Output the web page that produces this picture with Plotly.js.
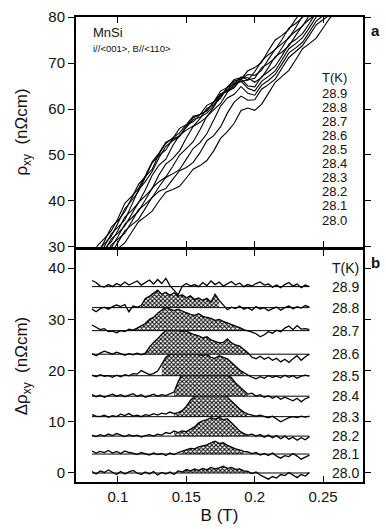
<!DOCTYPE html>
<html>
<head>
<meta charset="utf-8">
<script src="https://cdn.plot.ly/plotly-3.0.1.min.js"></script>
<style>body{margin:0;background:#fff}</style>
</head>
<body>
<div id="chart" style="width:386px;height:529px"></div>
<script>
// temperatures, lowest first
var temps = ["28.0", "28.1", "28.2", "28.3", "28.4", "28.5", "28.6", "28.7", "28.8", "28.9"];

// panel a : rho_xy (nOhm cm) vs B (T)
var bTop = [0.080,0.085,0.090,0.095,0.100,0.105,0.110,0.115,0.120,0.125,0.130,0.135,0.140,0.145,0.150,0.155,0.160,0.165,0.170,0.175,0.180,0.185,0.190,0.195,0.200,0.205,0.210,0.215,0.220,0.225,0.230,0.235,0.240,0.245,0.250,0.255,0.260];
var rho280 = [22.8,24.0,26.2,28.5,29.7,30.9,33.2,35.5,36.6,37.8,40.0,41.9,42.5,43.2,45.0,46.9,47.7,48.8,50.9,53.6,55.1,56.9,59.7,60.2,59.7,61.0,63.4,65.8,67.1,68.4,70.7,73.1,74.2,75.4,77.6,79.8,81.0];
var rho281 = [23.7,26.1,27.3,28.7,31.0,33.5,34.8,36.0,38.4,40.8,42.1,42.7,44.7,46.6,47.3,48.4,50.5,53.1,54.2,56.1,59.1,61.5,62.8,61.9,62.0,64.3,65.3,66.5,68.9,71.2,72.5,73.8,76.0,78.3,79.4,80.5,82.8];
var rho282 = [24.2,25.6,27.9,30.4,31.7,33.0,35.5,38.1,39.3,40.7,43.1,45.1,45.9,46.8,49.1,51.4,52.7,54.6,57.6,60.6,62.4,63.2,64.9,63.4,63.0,65.2,66.2,67.5,69.8,72.2,73.3,74.5,76.8,79.1,80.3,81.5,83.7];
var rho283 = [24.6,27.0,28.4,29.8,32.3,35.0,36.3,37.8,40.2,42.8,44.2,45.2,47.5,50.0,51.4,52.9,55.5,58.4,59.8,61.2,63.6,65.4,66.0,64.5,63.9,66.0,67.1,68.3,70.7,73.1,74.2,75.5,77.7,80.0,81.2,82.3,84.6];
var rho284 = [25.1,26.5,29.0,31.7,33.0,34.6,37.1,39.7,41.1,42.7,45.7,48.0,49.2,50.9,53.7,56.2,57.1,58.3,60.4,62.9,64.1,64.9,66.5,65.0,64.8,67.0,68.1,69.3,71.6,74.1,75.1,76.4,78.6,81.0,82.1,83.3,85.5];
var rho285 = [25.5,28.2,29.6,31.1,33.6,36.5,37.9,39.6,42.4,45.6,47.8,49.1,52.0,54.3,55.4,56.3,57.9,60.1,60.9,62.3,64.7,66.4,66.8,66.8,65.8,66.8,69.0,71.4,72.4,73.7,76.0,78.2,79.5,80.6,82.9,85.2,86.4];
var rho286 = [26.0,27.6,30.1,32.8,34.3,35.9,39.1,42.4,44.2,46.4,49.4,51.9,53.1,54.0,56.3,58.1,58.8,59.6,61.5,63.9,64.7,65.4,67.0,66.3,66.7,69.0,69.9,71.1,73.3,75.7,76.9,78.0,80.4,82.6,83.8,85.2,87.3];
var rho287 = [26.4,29.1,30.7,32.3,35.2,38.3,40.1,42.1,45.1,48.3,49.9,51.1,53.5,55.8,56.6,57.2,58.8,60.8,61.5,62.7,64.7,66.1,66.5,67.5,67.3,68.4,70.8,73.0,74.2,75.4,77.7,80.2,81.2,82.5,84.7,86.9,88.2];
var rho288 = [26.9,28.5,31.2,34.3,35.7,37.7,40.6,43.6,45.3,46.9,50.2,52.5,53.7,54.8,56.6,58.4,58.8,59.6,61.5,63.3,64.1,65.8,66.0,66.3,68.1,70.4,71.8,72.9,75.1,77.6,78.6,79.9,82.1,84.5,85.6,87.0,89.1];
var rho289 = [27.3,30.3,31.8,33.5,36.2,39.5,41.0,42.7,45.5,48.5,50.4,52.8,53.5,54.1,56.0,57.7,58.2,59.1,60.7,63.2,63.8,64.6,66.5,68.3,69.0,70.1,72.7,75.0,76.0,77.3,79.5,81.7,83.0,84.5,86.5,88.8,90.0];
var rhoCurves = [rho280, rho281, rho282, rho283, rho284, rho285, rho286, rho287, rho288, rho289];

// panel b : delta rho_xy (nOhm cm) vs B (T), drawn shifted by offsets
var bBot = [0.081,0.084,0.087,0.090,0.093,0.096,0.099,0.102,0.105,0.108,0.111,0.114,0.117,0.120,0.123,0.126,0.129,0.132,0.135,0.138,0.141,0.144,0.147,0.150,0.153,0.156,0.159,0.162,0.165,0.168,0.171,0.174,0.177,0.180,0.183,0.186,0.189,0.192,0.195,0.198,0.201,0.204,0.207,0.210,0.213,0.216,0.219,0.222,0.225,0.228,0.231,0.234,0.237,0.240];
var d280 = [0.3,-0.2,0.4,0.1,0.6,0.2,-0.3,0.3,-0.2,0.2,0.5,0.0,-0.3,0.2,-0.2,0.3,-0.4,0.1,-0.2,0.2,-0.3,0.4,0.2,0.7,0.4,0.8,0.5,0.9,0.6,1.1,0.8,1.0,1.3,0.9,1.1,0.7,0.8,0.4,0.3,-0.1,0.2,-0.4,-0.8,-1.2,-0.7,-1.0,-0.3,-0.5,0.1,-0.4,-0.9,-0.3,-0.6,0.1];
var d281 = [0.6,0.2,0.5,0.3,0.7,0.2,0.5,0.1,0.6,0.3,0.2,-0.1,0.3,0.0,-0.2,0.2,-0.1,0.1,-0.3,0.2,-0.1,0.3,0.6,0.9,1.1,1.0,1.4,1.6,1.8,2.2,2.5,2.1,2.2,1.7,1.3,1.0,0.8,0.5,0.4,0.1,0.3,-0.2,0.1,-0.3,0.2,-0.4,-0.8,-0.3,-0.5,0.1,-0.4,-1.0,-0.6,-0.2];
var d282 = [0.2,-0.1,0.3,0.0,0.4,0.1,0.5,0.2,-0.1,0.3,0.0,0.2,-0.2,0.1,0.3,0.0,0.4,0.2,0.7,0.5,1.0,0.7,1.0,0.9,1.3,1.8,2.6,3.0,3.2,3.6,3.3,3.7,3.2,3.4,2.6,1.8,1.0,0.5,0.2,0.4,0.0,0.3,-0.2,0.2,-0.3,0.1,-0.5,0.0,-0.6,-0.2,-0.8,-0.3,-0.7,-0.1];
var d283 = [0.4,0.1,0.0,0.3,-0.1,0.2,0.0,0.5,0.2,0.6,0.1,0.3,0.0,0.4,0.2,0.6,0.3,0.7,0.5,0.9,0.6,0.8,1.2,2.0,3.2,4.0,4.6,4.8,5.3,5.1,5.0,4.6,4.4,3.8,3.0,2.2,1.5,0.9,0.5,0.3,0.1,0.3,0.0,-0.2,0.1,-0.4,-1.0,-0.6,-0.2,0.0,-0.2,0.1,-0.1,0.1];
var d284 = [0.3,-0.1,0.2,-0.2,0.1,0.4,0.0,0.3,-0.1,0.2,0.5,0.0,0.3,-0.2,0.1,0.4,0.0,0.3,0.1,0.5,0.8,2.8,4.4,5.0,5.6,5.2,5.8,5.4,4.7,5.2,5.0,4.6,4.8,4.2,3.6,2.6,1.8,1.2,0.4,0.6,0.0,0.3,-0.2,0.1,-0.4,0.0,-0.6,-0.2,-0.5,-0.9,-0.4,-1.1,-0.5,-0.2];
var d285 = [0.1,-0.2,0.2,-0.1,0.0,-0.3,0.1,-0.2,0.2,0.0,0.4,0.3,1.0,0.6,0.2,0.4,0.9,2.2,3.6,4.2,4.8,4.5,4.9,4.6,4.4,4.7,4.3,3.9,4.2,3.6,3.4,3.9,3.6,3.3,2.6,1.8,1.1,0.6,0.1,-0.3,-0.6,-0.2,-0.5,0.0,-0.3,-0.1,-0.4,0.1,-0.3,0.0,-0.5,-0.1,0.1,-0.1];
var d286 = [0.1,-0.3,0.2,0.6,0.3,0.0,0.4,0.1,-0.2,0.1,-0.1,0.2,-0.1,0.2,1.4,2.3,3.0,3.9,4.6,4.8,5.2,4.7,4.4,4.6,4.1,3.8,3.6,3.2,3.4,2.8,2.5,2.2,2.3,3.0,2.2,1.8,1.6,1.0,0.3,-0.6,-0.9,-0.4,-1.0,-0.6,-1.2,-0.8,-1.5,-1.0,-1.6,-0.9,-0.3,-1.2,-0.5,0.0];
var d287 = [1.1,0.6,0.2,0.4,-0.2,-0.1,-0.4,0.0,-0.2,0.3,0.1,0.5,0.9,1.4,2.2,2.6,3.4,4.0,4.6,4.2,3.9,4.2,3.8,3.5,3.2,3.0,3.3,2.8,2.6,2.4,2.0,2.2,1.8,1.5,1.3,0.9,0.6,0.2,0.0,-0.3,-0.6,-1.2,-0.8,-0.2,-0.5,0.1,-0.2,0.5,0.9,0.2,1.0,0.3,0.4,0.2];
var d288 = [-0.3,-0.8,-0.2,0.1,-0.3,0.2,0.5,0.2,0.6,-0.8,0.3,0.1,0.4,1.8,2.2,2.8,3.4,2.6,3.0,2.4,2.9,2.2,2.5,1.9,2.3,1.6,1.9,1.4,1.8,1.1,2.6,1.4,0.4,-0.4,0.1,-0.2,0.3,-0.3,0.0,-0.5,0.2,-0.3,0.0,-0.6,-0.2,0.1,-0.5,0.0,0.3,-0.2,0.2,-0.1,0.4,0.1];
var d289 = [1.2,0.8,0.1,-0.1,0.4,0.0,0.6,0.2,0.9,0.3,0.7,1.1,0.3,0.8,1.3,0.5,1.4,0.6,1.6,0.2,-0.8,-1.6,0.1,0.6,0.1,0.4,0.0,0.8,0.2,1.1,0.4,0.9,0.1,0.5,1.0,0.3,0.7,0.0,0.4,0.1,0.6,0.9,0.3,0.5,-0.1,0.3,-0.2,0.4,0.8,0.1,0.5,-0.2,0.3,0.0];
var deltaCurves = [d280, d281, d282, d283, d284, d285, d286, d287, d288, d289];
var offsets = [0, 3.7, 7.2, 11, 15, 19, 23.2, 27.8, 32.3, 36.4];
// B range of the shaded hump of each curve (none for 28.9)
var fillFrom = [0.145, 0.145, 0.14, 0.14, 0.14, 0.13, 0.12, 0.106, 0.116, null];
var fillTo = [0.195, 0.192, 0.195, 0.195, 0.197, 0.194, 0.196, 0.194, 0.176, null];

var font = "Liberation Sans, Arial, Helvetica, sans-serif";
var traces = [];

for (var k = 0; k < temps.length; k++) {
  traces.push({
    x: bTop, y: rhoCurves[k], xaxis: "x2", yaxis: "y2",
    mode: "lines", line: { color: "#000", width: 1.1 },
    hoverinfo: "skip", showlegend: false
  });
}

for (var k = 0; k < temps.length; k++) {
  var off = offsets[k];
  var yy = deltaCurves[k].map(function (v) { return v + off; });
  if (fillFrom[k] != null) {
    var px = [], py = [];
    for (var i = 0; i < bBot.length; i++) {
      if (bBot[i] >= fillFrom[k] && bBot[i] <= fillTo[k]) {
        px.push(bBot[i]);
        py.push(yy[i]);
      }
    }
    px.push(px[px.length - 1], px[0]);
    py.push(off, off);
    traces.push({
      x: px, y: py, mode: "lines", fill: "toself",
      fillcolor: "#8a8a8a",
      fillpattern: { shape: "x", size: 3, solidity: 0.55, fgcolor: "#000", bgcolor: "#fff" },
      line: { width: 0 }, hoverinfo: "skip", showlegend: false
    });
  }
  traces.push({
    x: [bBot[0], bBot[bBot.length - 1]], y: [off, off],
    mode: "lines", line: { color: "#000", width: 1 },
    hoverinfo: "skip", showlegend: false
  });
  traces.push({
    x: bBot, y: yy, mode: "lines", line: { color: "#000", width: 1.3 },
    hoverinfo: "skip", showlegend: false
  });
}

function note(text, xref, yref, x, y, xanchor, size) {
  return { text: text, xref: xref, yref: yref, x: x, y: y, xanchor: xanchor, yanchor: "middle",
    showarrow: false, font: { size: size } };
}

var annotations = [
  note("<b>a</b>", "paper", "paper", 1.042, 0.972, "center", 15),
  note("<b>b</b>", "paper", "paper", 1.042, 0.473, "center", 15),
  note("MnSi", "paper", "paper", 0.052, 0.9656, "left", 13),
  note("i//&lt;001&gt;, B//&lt;110&gt;", "paper", "paper", 0.052, 0.9333, "left", 9.5),
  note("T(K)", "paper", "paper", 0.902, 0.8695, "center", 13),
  note("T(K)", "paper", "y", 0.885, 40, "left", 14)
];
for (var k = 0; k < temps.length; k++) {
  annotations.push(note(temps[k], "paper", "paper", 0.902, 0.5634 + 0.0303 * k, "center", 13));
  annotations.push(note(temps[k], "paper", "y", 0.885, offsets[k], "left", 14));
}

var axisCommon = {
  showline: true, linewidth: 2, linecolor: "#000", mirror: "ticks",
  showgrid: false, zeroline: false, tickcolor: "#000", tickwidth: 1
};

var layout = {
  width: 386, height: 529,
  margin: { l: 76, r: 23, t: 17, b: 47 },
  paper_bgcolor: "#fff", plot_bgcolor: "#fff",
  font: { family: font, color: "#111", size: 14 },
  showlegend: false,
  xaxis: Object.assign({}, axisCommon, {
    anchor: "y", range: [0.0693, 0.2792], tickvals: [0.1, 0.15, 0.2, 0.25],
    ticktext: ["0.1", "0.15", "0.2", "0.25"], ticks: "inside", ticklen: 6,
    tickfont: { size: 15 }, title: { text: "B (T)", font: { size: 17 }, standoff: 5 }
  }),
  xaxis2: Object.assign({}, axisCommon, {
    anchor: "y2", matches: "x", range: [0.0693, 0.2792], tickvals: [0.1, 0.15, 0.2, 0.25],
    ticks: "inside", ticklen: 6, showticklabels: false
  }),
  yaxis: Object.assign({}, axisCommon, {
    domain: [0, 0.4989], range: [-1.76, 43.55], tickvals: [0, 10, 20, 30, 40],
    ticks: "outside", ticklen: 6, tickfont: { size: 15 },
    title: { text: "\u0394\u03c1<sub>xy</sub>  (n\u03a9cm)", font: { size: 17 }, standoff: 16 }
  }),
  yaxis2: Object.assign({}, axisCommon, {
    domain: [0.5054, 1], range: [30, 80], tickvals: [30, 40, 50, 60, 70, 80],
    ticks: "outside", ticklen: 6, tickfont: { size: 15 },
    title: { text: "\u03c1<sub>xy</sub>  (n\u03a9cm)", font: { size: 17 }, standoff: 16 }
  }),
  annotations: annotations
};

Plotly.newPlot("chart", traces, layout, { staticPlot: true, displayModeBar: false });
</script>
</body>
</html>
